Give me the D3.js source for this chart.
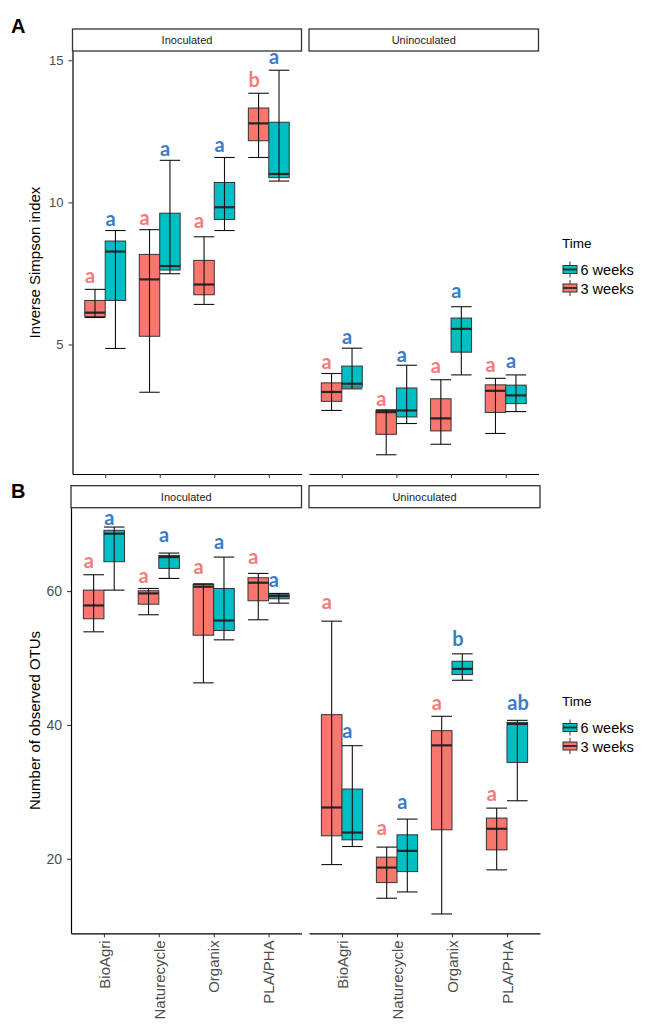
<!DOCTYPE html>
<html>
<head>
<meta charset="utf-8">
<script src="https://cdn.jsdelivr.net/npm/d3@7"></script>
<style>
  body { margin: 0; background: #fff; }
  svg { display: block; font-family: Arial, 'Liberation Sans', sans-serif; }
</style>
</head>
<body>
<svg id="chart" width="650" height="1033"></svg>
<script>
const treatments = ['BioAgri', 'Naturecycle', 'Organix', 'PLA/PHA'];
const inoculation = ['Inoculated', 'Uninoculated'];
const times = ['3 weeks', '6 weeks'];
const legendOrder = ['6 weeks', '3 weeks'];

// [inoculation, treatment, time, min, q1, median, q3, max]
const simpsonStats = [
  ['Inoculated', 'BioAgri', '3 weeks', 5.95, 5.98, 6.12, 6.55, 6.94],
  ['Inoculated', 'BioAgri', '6 weeks', 4.86, 6.55, 8.27, 8.64, 9.01],
  ['Inoculated', 'Naturecycle', '3 weeks', 3.32, 5.29, 7.29, 8.17, 9.04],
  ['Inoculated', 'Naturecycle', '6 weeks', 7.49, 7.62, 7.76, 9.62, 11.48],
  ['Inoculated', 'Organix', '3 weeks', 6.41, 6.75, 7.11, 7.96, 8.79],
  ['Inoculated', 'Organix', '6 weeks', 9.01, 9.40, 9.83, 10.70, 11.58],
  ['Inoculated', 'PLA/PHA', '3 weeks', 11.58, 12.17, 12.78, 13.32, 13.84],
  ['Inoculated', 'PLA/PHA', '6 weeks', 10.75, 10.87, 11.00, 12.82, 14.65],
  ['Uninoculated', 'BioAgri', '3 weeks', 2.68, 3.00, 3.33, 3.65, 3.98],
  ['Uninoculated', 'BioAgri', '6 weeks', 3.44, 3.50, 3.62, 4.24, 4.87],
  ['Uninoculated', 'Naturecycle', '3 weeks', 1.12, 1.84, 2.62, 2.68, 2.70],
  ['Uninoculated', 'Naturecycle', '6 weeks', 2.22, 2.45, 2.68, 3.47, 4.27],
  ['Uninoculated', 'Organix', '3 weeks', 1.49, 1.96, 2.40, 3.09, 3.76],
  ['Uninoculated', 'Organix', '6 weeks', 3.93, 4.73, 5.55, 5.93, 6.33],
  ['Uninoculated', 'PLA/PHA', '3 weeks', 1.87, 2.61, 3.37, 3.58, 3.81],
  ['Uninoculated', 'PLA/PHA', '6 weeks', 2.64, 2.92, 3.21, 3.57, 3.93]
];

const otuStats = [
  ['Inoculated', 'BioAgri', '3 weeks', 53.92, 55.87, 57.86, 60.15, 62.45],
  ['Inoculated', 'BioAgri', '6 weeks', 60.15, 64.40, 68.59, 69.09, 69.58],
  ['Inoculated', 'Naturecycle', '3 weeks', 56.47, 58.05, 59.66, 60.06, 60.40],
  ['Inoculated', 'Naturecycle', '6 weeks', 61.90, 63.40, 65.09, 65.34, 65.69],
  ['Inoculated', 'Organix', '3 weeks', 46.29, 53.41, 60.66, 61.00, 61.10],
  ['Inoculated', 'Organix', '6 weeks', 52.72, 54.12, 55.61, 60.40, 65.09],
  ['Inoculated', 'PLA/PHA', '3 weeks', 55.72, 58.56, 61.26, 62.00, 62.65],
  ['Inoculated', 'PLA/PHA', '6 weeks', 58.20, 58.86, 59.25, 59.55, 59.66],
  ['Uninoculated', 'BioAgri', '3 weeks', 19.13, 23.43, 27.66, 41.54, 55.51],
  ['Uninoculated', 'BioAgri', '6 weeks', 21.83, 22.83, 23.92, 30.42, 36.90],
  ['Uninoculated', 'Naturecycle', '3 weeks', 14.10, 16.44, 18.68, 20.24, 21.74],
  ['Uninoculated', 'Naturecycle', '6 weeks', 15.04, 18.08, 21.18, 23.58, 25.93],
  ['Uninoculated', 'Organix', '3 weeks', 11.75, 24.33, 36.95, 39.15, 41.29],
  ['Uninoculated', 'Organix', '6 weeks', 46.68, 47.53, 48.38, 49.52, 50.63],
  ['Uninoculated', 'PLA/PHA', '3 weeks', 18.34, 21.33, 24.48, 26.08, 27.57],
  ['Uninoculated', 'PLA/PHA', '6 weeks', 28.67, 34.40, 40.15, 40.39, 40.69]
];

// significance letters: [inoculation, treatment, time, letter, value at baseline]
const simpsonLetters = [
  ['Inoculated', 'BioAgri', '3 weeks', 'a', 7.15],
  ['Inoculated', 'BioAgri', '6 weeks', 'a', 9.17],
  ['Inoculated', 'Naturecycle', '3 weeks', 'a', 9.20],
  ['Inoculated', 'Naturecycle', '6 weeks', 'a', 11.63],
  ['Inoculated', 'Organix', '3 weeks', 'a', 9.11],
  ['Inoculated', 'Organix', '6 weeks', 'a', 11.79],
  ['Inoculated', 'PLA/PHA', '3 weeks', 'b', 14.07],
  ['Inoculated', 'PLA/PHA', '6 weeks', 'a', 14.88],
  ['Uninoculated', 'BioAgri', '3 weeks', 'a', 4.14],
  ['Uninoculated', 'BioAgri', '6 weeks', 'a', 5.00],
  ['Uninoculated', 'Naturecycle', '3 weeks', 'a', 2.83],
  ['Uninoculated', 'Naturecycle', '6 weeks', 'a', 4.39],
  ['Uninoculated', 'Organix', '3 weeks', 'a', 4.00],
  ['Uninoculated', 'Organix', '6 weeks', 'a', 6.64],
  ['Uninoculated', 'PLA/PHA', '3 weeks', 'a', 4.02],
  ['Uninoculated', 'PLA/PHA', '6 weeks', 'a', 4.17]
];

const otuLetters = [
  ['Inoculated', 'BioAgri', '3 weeks', 'a', 63.4],
  ['Inoculated', 'BioAgri', '6 weeks', 'a', 69.84],
  ['Inoculated', 'Naturecycle', '3 weeks', 'a', 61.26],
  ['Inoculated', 'Naturecycle', '6 weeks', 'a', 67.34],
  ['Inoculated', 'Organix', '3 weeks', 'a', 62.6],
  ['Inoculated', 'Organix', '6 weeks', 'a', 66.24],
  ['Inoculated', 'PLA/PHA', '3 weeks', 'a', 64.0],
  ['Inoculated', 'PLA/PHA', '6 weeks', 'a', 60.6],
  ['Uninoculated', 'BioAgri', '3 weeks', 'a', 57.26],
  ['Uninoculated', 'BioAgri', '6 weeks', 'a', 38.05],
  ['Uninoculated', 'Naturecycle', '3 weeks', 'a', 23.58],
  ['Uninoculated', 'Naturecycle', '6 weeks', 'a', 27.43],
  ['Uninoculated', 'Organix', '3 weeks', 'a', 42.29],
  ['Uninoculated', 'Organix', '6 weeks', 'b', 51.87],
  ['Uninoculated', 'PLA/PHA', '3 weeks', 'a', 28.56],
  ['Uninoculated', 'PLA/PHA', '6 weeks', 'ab', 42.3]
];

const simpsonTicks = [5, 10, 15];
const otuTicks = [20, 40, 60];

const fillColors = {'3 weeks': '#F8766D', '6 weeks': '#00BFC4'};
const letterColors = {'3 weeks': '#f47a7c', '6 weeks': '#3c7bc8'};

const svg = d3.select('#chart');

function toStats(rows) {
  return rows.map(r => ({
    inoc: r[0], cat: r[1], time: r[2],
    min: r[3], q1: r[4], med: r[5], q3: r[6], max: r[7]
  }));
}

function drawPanel(cfg) {
  let stats = toStats(cfg.stats);
  let g = svg.append('g');

  // ggplot style 5% expansion around the data
  let lo = d3.min(stats, d => d.min),
      hi = d3.max(stats, d => d.max),
      pad = (hi - lo) * 0.05;

  let y = d3.scaleLinear()
    .domain([lo - pad, hi + pad])
    .range([cfg.bottom, cfg.top]);

  cfg.facets.forEach((range, fi) => {
    let inoc = inoculation[fi];
    let x = d3.scalePoint().domain(treatments).range(range).padding(0.6);
    let dodge = d3.scaleBand()
      .domain(times)
      .range([-0.375 * x.step(), 0.375 * x.step()]);

    // strip
    g.append('rect')
      .attr('x', range[0])
      .attr('y', cfg.stripTop)
      .attr('width', range[1] - range[0])
      .attr('height', cfg.top - cfg.stripTop)
      .attr('fill', '#fff')
      .attr('stroke', '#333')
      .attr('stroke-width', 1.3);

    g.append('text')
      .text(inoc)
      .attr('x', (range[0] + range[1]) / 2)
      .attr('y', (cfg.top + cfg.stripTop) / 2 + 4)
      .attr('text-anchor', 'middle')
      .style('font-size', '11px')
      .attr('fill', '#1a1a1a');

    // x axis
    let xAxis = g.append('g')
      .attr('transform', `translate(0,${cfg.bottom})`)
      .call(d3.axisBottom(x).tickSize(4).tickSizeOuter(0).tickPadding(3));

    xAxis.select('.domain').attr('stroke', '#000').attr('stroke-width', 1.2);
    xAxis.selectAll('.tick line').attr('stroke', '#333');

    if (cfg.xLabels) {
      xAxis.selectAll('.tick text')
        .attr('transform', 'rotate(-90)')
        .attr('text-anchor', 'end')
        .attr('x', -7)
        .attr('y', 0)
        .attr('dy', '0.35em')
        .style('font-size', '15px')
        .style('font-family', 'Arial, "Liberation Sans", sans-serif')
        .attr('fill', '#4d4d4d');
    } else {
      xAxis.selectAll('.tick text').remove();
    }

    // y axis only on the first facet
    if (fi === 0) {
      let yAxis = g.append('g')
        .attr('transform', `translate(${range[0]},0)`)
        .call(d3.axisLeft(y).tickValues(cfg.ticks).tickSize(4).tickSizeOuter(0).tickPadding(5));
      yAxis.select('.domain').attr('stroke', '#000').attr('stroke-width', 1.2);
      yAxis.selectAll('.tick line').attr('stroke', '#333');
      yAxis.selectAll('.tick text')
        .style('font-size', cfg.tickFont)
        .style('font-family', 'Arial, "Liberation Sans", sans-serif')
        .attr('fill', '#4d4d4d');
    }

    let rows = stats.filter(d => d.inoc === inoc);
    let bw = dodge.bandwidth();

    let box = g.append('g').selectAll('g')
      .data(rows)
      .enter()
      .append('g')
      .attr('transform', d => `translate(${x(d.cat) + dodge(d.time)},0)`);

    box.append('rect')
      .attr('x', 0)
      .attr('y', d => y(d.q3))
      .attr('width', bw)
      .attr('height', d => y(d.q1) - y(d.q3))
      .attr('fill', d => fillColors[d.time])
      .attr('stroke', '#333')
      .attr('stroke-width', 1);

    box.append('line')
      .attr('x1', 0)
      .attr('x2', bw)
      .attr('y1', d => y(d.med))
      .attr('y2', d => y(d.med))
      .attr('stroke', '#262626')
      .attr('stroke-width', 2.2);

    // error bar whiskers
    box.append('line')
      .attr('x1', bw / 2)
      .attr('x2', bw / 2)
      .attr('y1', d => y(d.max))
      .attr('y2', d => y(d.min))
      .attr('stroke', '#111')
      .attr('stroke-width', 1.1);

    ['min', 'max'].forEach(k => {
      box.append('line')
        .attr('x1', 0)
        .attr('x2', bw)
        .attr('y1', d => y(d[k]))
        .attr('y2', d => y(d[k]))
        .attr('stroke', '#111')
        .attr('stroke-width', 1.1);
    });

    // significance letters
    let letters = cfg.letters.filter(l => l[0] === inoc);
    g.append('g').selectAll('text')
      .data(letters)
      .enter()
      .append('text')
      .text(l => l[3])
      .attr('x', l => x(l[1]) + dodge(l[2]) + bw / 2 - 10)
      .attr('y', l => y(l[4]))
      .style('font-family', 'Lato, "Open Sans", sans-serif')
      .style('font-weight', 700)
      .style('font-size', '20px')
      .attr('fill', l => letterColors[l[2]]);
  });

  // y axis title
  g.append('text')
    .text(cfg.yTitle)
    .attr('transform', `translate(40,${(cfg.top + cfg.bottom) / 2})rotate(-90)`)
    .attr('text-anchor', 'middle')
    .style('font-size', '15px')
    .attr('fill', '#000');

  // panel tag
  g.append('text')
    .text(cfg.tag)
    .attr('x', 11)
    .attr('y', cfg.tagY)
    .style('font-size', '20px')
    .style('font-weight', 700)
    .attr('fill', '#000');

  drawLegend(g, cfg.legendY);
}

function drawLegend(g, titleY) {
  let lg = g.append('g').attr('transform', `translate(562,${titleY})`);

  lg.append('text')
    .text('Time')
    .attr('x', 0)
    .attr('y', 0)
    .style('font-size', '13.5px')
    .attr('fill', '#000');

  let item = lg.selectAll('g')
    .data(legendOrder)
    .enter()
    .append('g')
    .attr('transform', (d, i) => `translate(0,${14 + i * 18.5})`);

  item.append('line')
    .attr('x1', 8).attr('x2', 8)
    .attr('y1', 0).attr('y2', 16)
    .attr('stroke', '#333')
    .attr('stroke-width', 1);

  item.append('rect')
    .attr('x', 1)
    .attr('y', 4)
    .attr('width', 14)
    .attr('height', 8)
    .attr('fill', d => fillColors[d])
    .attr('stroke', '#333')
    .attr('stroke-width', 1);

  item.append('line')
    .attr('x1', 1).attr('x2', 15)
    .attr('y1', 8).attr('y2', 8)
    .attr('stroke', '#262626')
    .attr('stroke-width', 1.8);

  item.append('text')
    .text(d => d)
    .attr('x', 18.5)
    .attr('y', 13.5)
    .style('font-size', '14.5px')
    .attr('fill', '#000');
}

drawPanel({
  stats: simpsonStats,
  letters: simpsonLetters,
  ticks: simpsonTicks,
  tickFont: '13px',
  facets: [[72.5, 301.5], [309, 538.5]],
  top: 51,
  bottom: 474,
  stripTop: 29,
  xLabels: false,
  yTitle: 'Inverse Simpson index',
  tag: 'A',
  tagY: 33,
  legendY: 247.5
});

drawPanel({
  stats: otuStats,
  letters: otuLetters,
  ticks: otuTicks,
  tickFont: '14px',
  facets: [[71, 301.5], [309, 540]],
  top: 507.7,
  bottom: 933.3,
  stripTop: 485.7,
  xLabels: true,
  yTitle: 'Number of observed OTUs',
  tag: 'B',
  tagY: 498,
  legendY: 705.5
});
</script>
</body>
</html>
